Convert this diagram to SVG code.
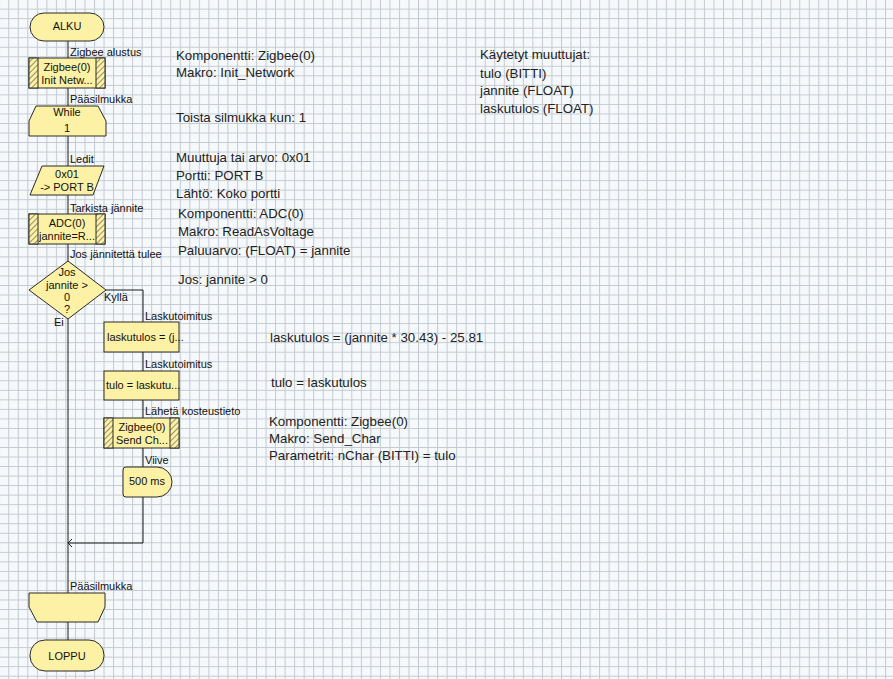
<svg xmlns="http://www.w3.org/2000/svg" width="893" height="679" viewBox="0 0 893 679">
<defs>
<pattern id="grid" patternUnits="userSpaceOnUse" width="9.53" height="9.53" patternTransform="translate(-1.3,-0.9)">
<rect width="9.53" height="9.53" fill="#f6f9fc"/>
<path d="M0.5,0 V9.53 M0,0.5 H9.53" stroke="#c3cad1" stroke-width="1" fill="none"/>
</pattern>
<pattern id="hatch" patternUnits="userSpaceOnUse" width="4" height="4" patternTransform="rotate(-45)">
<rect width="4" height="4" fill="#fdf1a5"/>
<path d="M0,0 H4" stroke="#303030" stroke-width="1"/>
</pattern>
<style>
.shape{fill:#fdf1a5;stroke:#2a2a2a;stroke-width:1}
.bar{fill:url(#hatch);stroke:#2a2a2a;stroke-width:1}
.ft{font-family:"Liberation Sans",Arial,sans-serif;font-size:11px;fill:#111}
.c{text-anchor:middle}
.note{font-family:"Liberation Sans",Calibri,sans-serif;font-size:13.3px;fill:#222}
.wire{stroke:#1a1a1a;stroke-width:1;fill:none}
</style>
</defs>
<rect x="0" y="0" width="893" height="679" fill="url(#grid)"/>

<g id="connectors">
<path class="wire" d="M68,41 V58 M68,88 V106 M68,136 V166 M68,195 V214 M68,244 V261 M68,319 V593 M68,622 V640"/>
<path class="wire" d="M106,290 H143 V322 M143,352 V371 M143,400 V418 M143,448 V467 M143,497 V543 H68"/>
<path class="wire" d="M72,539 L68,543 L72,547"/>
<text class="ft" x="70" y="56">Zigbee alustus</text>
<text class="ft" x="70" y="103">Pääsilmukka</text>
<text class="ft" x="70" y="163">Ledit</text>
<text class="ft" x="70" y="212">Tarkista jännite</text>
<text class="ft" x="70" y="258">Jos jännitettä tulee</text>
<text class="ft" x="104" y="301">Kyllä</text>
<text class="ft" x="54" y="326">Ei</text>
<text class="ft" x="145" y="320">Laskutoimitus</text>
<text class="ft" x="145" y="368">Laskutoimitus</text>
<text class="ft" x="145" y="415">Lähetä kosteustieto</text>
<text class="ft" x="145" y="464">Viive</text>
<text class="ft" x="70" y="590">Pääsilmukka</text>
</g>

<g id="alku">
<rect class="shape" x="30" y="13" width="74" height="28" rx="14" ry="14"/>
<text class="ft c" x="67" y="30" font-size="12">ALKU</text>
</g>

<g id="zigbee-init">
<rect class="shape" x="29" y="58" width="76" height="30"/>
<rect class="bar" x="29" y="58" width="9" height="30"/>
<rect class="bar" x="96" y="58" width="9" height="30"/>
<text class="ft c" x="67" y="71">Zigbee(0)</text>
<text class="ft c" x="67" y="84">Init  Netw...</text>
</g>

<g id="while">
<path class="shape" d="M36,106 H98 L106,121 V136 H29 V121 Z"/>
<text class="ft c" x="67" y="116">While</text>
<text class="ft c" x="67" y="132">1</text>
</g>

<g id="ledit">
<path class="shape" d="M42,166 H104 L93,195 H30 Z"/>
<text class="ft c" x="67" y="178">0x01</text>
<text class="ft c" x="67" y="191">-&gt; PORT B</text>
</g>

<g id="adc">
<rect class="shape" x="29" y="214" width="76" height="30"/>
<rect class="bar" x="29" y="214" width="9" height="30"/>
<rect class="bar" x="96" y="214" width="9" height="30"/>
<text class="ft c" x="67" y="227">ADC(0)</text>
<text class="ft c" x="67" y="240">jannite=R...</text>
</g>

<g id="decision">
<path class="shape" d="M68,261 L106,290 L68,319 L29,290 Z"/>
<text class="ft c" x="67" y="276">Jos</text>
<text class="ft c" x="67" y="288.5">jannite &gt;</text>
<text class="ft c" x="67" y="301">0</text>
<text class="ft c" x="67" y="313">?</text>
</g>

<g id="calc1">
<rect class="shape" x="104" y="322" width="75" height="30"/>
<text class="ft" x="107" y="341">laskutulos = (j...</text>
</g>

<g id="calc2">
<rect class="shape" x="104" y="371" width="75" height="29"/>
<text class="ft" x="106" y="389">tulo = laskutu...</text>
</g>

<g id="zigbee-send">
<rect class="shape" x="104" y="418" width="75" height="30"/>
<rect class="bar" x="104" y="418" width="9" height="30"/>
<rect class="bar" x="170" y="418" width="9" height="30"/>
<text class="ft c" x="142" y="431">Zigbee(0)</text>
<text class="ft c" x="142" y="444">Send  Ch...</text>
</g>

<g id="delay">
<path class="shape" d="M126,467 H157 A15,15 0 0 1 157,497 H126 Q123,497 123,494 V470 Q123,467 126,467 Z"/>
<text class="ft c" x="147" y="485">500 ms</text>
</g>

<g id="loop-end">
<path class="shape" d="M29,593 H105 V607 L98,622 H37 L29,607 Z"/>
</g>

<g id="loppu">
<rect class="shape" x="30" y="640" width="74" height="31" rx="15" ry="15"/>
<text class="ft c" x="67" y="660" font-size="12">LOPPU</text>
</g>

<g id="notes">
<text class="note" x="176" y="60">Komponentti: Zigbee(0)</text>
<text class="note" x="176" y="77">Makro: Init_Network</text>
<text class="note" x="176" y="122">Toista silmukka kun: 1</text>
<text class="note" x="176" y="162">Muuttuja tai arvo: 0x01</text>
<text class="note" x="176" y="180">Portti: PORT B</text>
<text class="note" x="176" y="198">Lähtö: Koko portti</text>
<text class="note" x="178" y="218">Komponentti: ADC(0)</text>
<text class="note" x="178" y="236">Makro: ReadAsVoltage</text>
<text class="note" x="178" y="255">Paluuarvo: (FLOAT) = jannite</text>
<text class="note" x="178" y="284">Jos: jannite &gt; 0</text>
<text class="note" x="270" y="342">laskutulos = (jannite * 30.43) - 25.81</text>
<text class="note" x="271" y="387">tulo = laskutulos</text>
<text class="note" x="269" y="426">Komponentti: Zigbee(0)</text>
<text class="note" x="269" y="443">Makro: Send_Char</text>
<text class="note" x="269" y="460">Parametrit: nChar (BITTI) = tulo</text>
<text class="note" x="480" y="59">Käytetyt muuttujat:</text>
<text class="note" x="480" y="78">tulo (BITTI)</text>
<text class="note" x="480" y="95">jannite (FLOAT)</text>
<text class="note" x="480" y="113">laskutulos (FLOAT)</text>
</g>
</svg>
